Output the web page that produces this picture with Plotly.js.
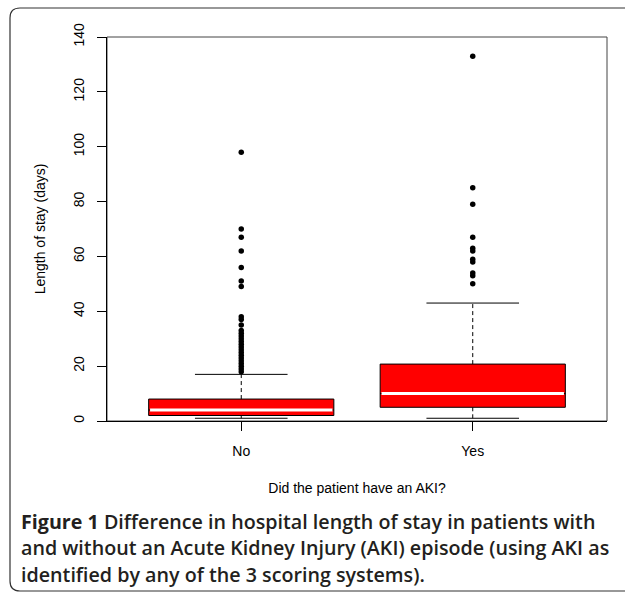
<!DOCTYPE html>
<html>
<head>
<meta charset="utf-8">
<script src="https://cdn.plot.ly/plotly-3.0.1.min.js"></script>
<style>
  html, body { margin: 0; padding: 0; background: #ffffff; }
  #chart { width: 625px; height: 593px; }
</style>
</head>
<body>
<div id="chart"></div>
<script>
// ---- Data ----
var categories = ['No', 'Yes'];
var q1Values = [2, 5];
var medianValues = [4, 10];
var q3Values = [8, 20.75];
var lowerWhiskers = [1, 1];
var upperWhiskers = [17, 43];
var outliersNo = [18, 19, 20, 21, 22, 23, 24, 25, 26, 27, 28, 29, 30, 31, 32, 33, 35, 37, 38, 49, 51, 56, 62, 67, 70, 98];
var outliersYes = [50, 53, 54, 58, 59, 62, 63, 67, 79, 85, 133];
var yTickValues = [0, 20, 40, 60, 80, 100, 120, 140];

var outlierGroups = [outliersNo, outliersYes];
var boxWidth = 0.8;
var capHalf = boxWidth / 4;
var positions = categories.map(function (c, i) { return i + 1; });

var traces = [];

categories.forEach(function (cat, i) {
  var xp = positions[i];
  // dashed whiskers
  traces.push({
    type: 'scatter', mode: 'lines', hoverinfo: 'skip', showlegend: false,
    x: [xp, xp, null, xp, xp],
    y: [q3Values[i], upperWhiskers[i], null, q1Values[i], lowerWhiskers[i]],
    line: { color: '#000000', width: 1, dash: '4px,3px' }
  });
  // caps
  traces.push({
    type: 'scatter', mode: 'lines', hoverinfo: 'skip', showlegend: false,
    x: [xp - capHalf, xp + capHalf, null, xp - capHalf, xp + capHalf],
    y: [upperWhiskers[i], upperWhiskers[i], null, lowerWhiskers[i], lowerWhiskers[i]],
    line: { color: '#000000', width: 1 }
  });
  // box
  traces.push({
    type: 'box', name: cat, showlegend: false,
    x: [xp],
    q1: [q1Values[i]], median: [medianValues[i]], q3: [q3Values[i]],
    lowerfence: [q1Values[i]], upperfence: [q3Values[i]],
    width: boxWidth, whiskerwidth: 0,
    boxpoints: false,
    fillcolor: '#ff0000',
    line: { color: '#000000', width: 1 }
  });
  // white median
  traces.push({
    type: 'scatter', mode: 'lines', hoverinfo: 'skip', showlegend: false,
    x: [xp - boxWidth / 2 + 0.006, xp + boxWidth / 2 - 0.006],
    y: [medianValues[i], medianValues[i]],
    line: { color: '#ffffff', width: 3 }
  });
  // outliers
  traces.push({
    type: 'scatter', mode: 'markers', showlegend: false,
    x: outlierGroups[i].map(function () { return xp; }),
    y: outlierGroups[i],
    marker: { color: '#000000', size: 5.5 }
  });
});

// paper coordinate helpers (plot area: x 107..607, y 37..421)
var L = 107, R = 607, T = 37, B = 421;
function px(x) { return (x - L) / (R - L); }
function py(y) { return (B - y) / (B - T); }

var fx = px(10), fr = px(660), ft = py(8), fb = py(591);
var rx = 10 / (R - L), ry = 10 / (B - T);
var framePath = 'M ' + fr + ',' + ft + ' L ' + (fx + rx) + ',' + ft +
  ' Q ' + fx + ',' + ft + ' ' + fx + ',' + (ft - ry) +
  ' L ' + fx + ',' + (fb + ry) +
  ' Q ' + fx + ',' + fb + ' ' + (fx + rx) + ',' + fb +
  ' L ' + fr + ',' + fb;

var captionFont = { family: '"Open Sans", "Noto Sans", sans-serif', size: 19.7, color: '#231f20', weight: 600 };
var captionLines = [
  '<b>Figure 1</b> Difference in hospital length of stay in patients with',
  'and without an Acute Kidney Injury (AKI) episode (using AKI as',
  'identified by any of the 3 scoring systems).'
];
var captionY = [521, 547, 574];

var annotations = captionLines.map(function (t, i) {
  return {
    text: t, xref: 'paper', yref: 'paper', x: px(19), y: py(captionY[i]),
    xanchor: 'left', yanchor: 'middle', showarrow: false, align: 'left',
    font: captionFont
  };
});

var axisFont = { family: '"Liberation Sans", Arial, sans-serif', size: 14, color: '#000000' };

var layout = {
  width: 625, height: 593,
  margin: { l: L, r: 625 - R, t: T, b: 593 - B, pad: 0 },
  paper_bgcolor: '#ffffff', plot_bgcolor: '#ffffff',
  showlegend: false,
  font: axisFont,
  xaxis: {
    range: [0.42, 2.58],
    tickvals: positions, ticktext: categories,
    ticks: 'outside', ticklen: 9, tickcolor: '#000000', tickwidth: 1,
    showline: true, linecolor: '#000000', linewidth: 1,
    showgrid: false, zeroline: false,
    tickfont: axisFont,
    ticklabelstandoff: 8,
    title: { text: 'Did the patient have an AKI?', font: axisFont, standoff: 25 },
    fixedrange: true
  },
  yaxis: {
    range: [0, 140],
    tickvals: yTickValues,
    ticks: 'outside', ticklen: 9, tickcolor: '#000000', tickwidth: 1,
    tickangle: -90,
    showline: true, linecolor: '#000000', linewidth: 1,
    showgrid: false, zeroline: false,
    tickfont: axisFont,
    ticklabelstandoff: 7,
    title: { text: 'Length of stay (days)', font: axisFont, standoff: 22 },
    fixedrange: true
  },
  shapes: [
    { type: 'rect', xref: 'paper', yref: 'paper', x0: 0, x1: 1, y0: 0, y1: 1,
      line: { color: '#444444', width: 1 }, layer: 'below' },
    { type: 'path', xref: 'paper', yref: 'paper', path: framePath,
      line: { color: '#333333', width: 1.2 } }
  ],
  annotations: annotations
};

Plotly.newPlot('chart', traces, layout, { displayModeBar: false, staticPlot: true });
</script>
</body>
</html>
